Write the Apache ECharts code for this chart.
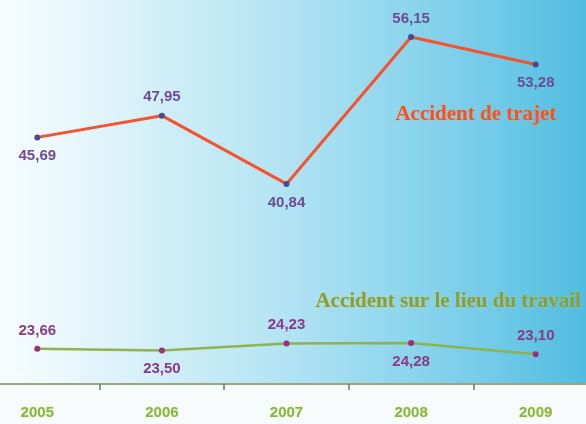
<!DOCTYPE html>
<html>
<head>
<meta charset="utf-8">
<script src="https://cdn.jsdelivr.net/npm/echarts@6/dist/echarts.min.js"></script>
<style>
html,body{margin:0;padding:0;background:#f7fbfc;overflow:hidden;}
#c{width:623px;height:424px;margin-left:-25px;}
</style>
</head>
<body>
<div id="c"></div>
<script>
var years = ['2005', '2006', '2007', '2008', '2009'];
var trajet = [45.69, 47.95, 40.84, 56.15, 53.28];
var travail = [23.66, 23.50, 24.23, 24.28, 23.10];
var trajetLabelPos = ['bottom', 'top', 'bottom', 'top', 'bottom'];
var travailLabelPos = ['top', 'bottom', 'top', 'bottom', 'top'];

function fmt(v) { return v.toFixed(2).replace('.', ','); }

var chart = echarts.init(document.getElementById('c'));
chart.setOption({
  backgroundColor: '#f7fbfc',
  animation: false,
  grid: {
    left: 0, right: 0, top: -2, bottom: 40,
    show: true, borderWidth: 0,
    backgroundColor: new echarts.graphic.LinearGradient(0, 0, 1, 0, [
      { offset: 0, color: '#f8fdfe' },
      { offset: 0.1, color: '#f0fafd' },
      { offset: 0.5, color: '#b2e3f3' },
      { offset: 0.8, color: '#78cdea' },
      { offset: 1, color: '#4cbbdf' }
    ])
  },
  xAxis: {
    type: 'category',
    data: years,
    boundaryGap: true,
    axisLine: { lineStyle: { color: '#9aa77a', width: 2 } },
    axisTick: { show: true, length: 6, lineStyle: { color: '#6f756c', width: 1.5 } },
    axisLabel: {
      color: '#86b548', fontWeight: 'bold', fontSize: 15,
      fontFamily: 'Liberation Sans, Arial, sans-serif', margin: 21,
      textBorderColor: 'rgba(230,240,150,0.6)', textBorderWidth: 1
    }
  },
  yAxis: { type: 'value', min: 20, max: 60, show: false, splitLine: { show: false } },
  graphic: [
    {
      type: 'text', left: 420, top: 104,
      style: {
        text: 'Accident de trajet', fill: '#f2512a',
        font: 'bold 21px "Liberation Serif", "Times New Roman", serif',
        stroke: 'rgba(255,170,60,0.5)', lineWidth: 0.8
      }
    },
    {
      type: 'text', left: 340, top: 291,
      style: {
        text: 'Accident sur le lieu du travail', fill: '#8a9d3a',
        font: 'bold 21px "Liberation Serif", "Times New Roman", serif',
        stroke: 'rgba(200,210,80,0.5)', lineWidth: 0.8
      }
    }
  ],
  series: [
    {
      type: 'line',
      data: trajet.map(function (v, i) {
        return { value: v, label: { position: trajetLabelPos[i] } };
      }),
      symbol: 'circle', symbolSize: 6,
      itemStyle: { color: '#4a4a8c' },
      lineStyle: { color: '#f5532c', width: 3 },
      label: {
        show: true, distance: 8,
        formatter: function (p) { return fmt(p.value); },
        color: '#6c4c94', fontWeight: 'bold', fontSize: 15,
        fontFamily: 'Liberation Sans, Arial, sans-serif'
      },
      z: 3
    },
    {
      type: 'line',
      data: travail.map(function (v, i) {
        return { value: v, label: { position: travailLabelPos[i] } };
      }),
      symbol: 'circle', symbolSize: 6,
      itemStyle: { color: '#9a2e78' },
      lineStyle: { color: '#8fb24c', width: 2.5 },
      label: {
        show: true, distance: 8,
        formatter: function (p) { return fmt(p.value); },
        color: '#8a3a88', fontWeight: 'bold', fontSize: 15,
        fontFamily: 'Liberation Sans, Arial, sans-serif'
      },
      z: 3
    }
  ]
});
</script>
</body>
</html>
